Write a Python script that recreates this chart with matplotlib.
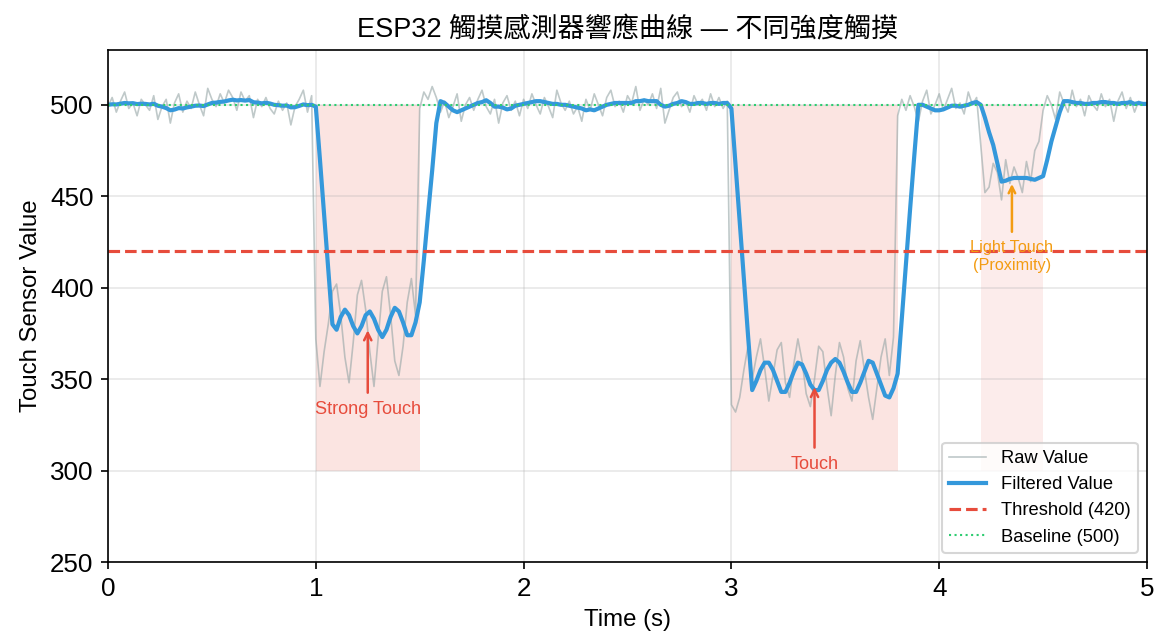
import numpy as np
import matplotlib
matplotlib.use("Agg")
import matplotlib.pyplot as plt

plt.rcParams['font.family'] = ['Liberation Sans', 'Noto Sans CJK TC', 'DejaVu Sans']

# sample times (0.02 s step)
time_s = np.round(np.arange(251) * 0.02, 2)

# raw sensor readings
raw_value = [
    499, 504, 496, 502, 507, 498, 501, 494, 503, 500,
    497, 505, 492, 499, 503, 490, 501, 506, 496, 502,
    498, 507, 500, 494, 509, 503, 499, 506, 501, 508,
    504, 497, 507, 502, 505, 493, 503, 499, 504, 498,
    495, 502, 497, 501, 489, 499, 503, 508, 496, 505,
    # strong touch 1.00 - 1.48
    372, 346, 365, 380, 398, 402, 385, 362, 348, 370,
    396, 404, 388, 365, 346, 372, 398, 406, 385, 360,
    352, 368, 392, 405, 385,
    # release 1.50 - 2.98
    498, 507, 503, 510, 504,
    496, 502, 493, 499, 506, 491, 500, 504, 497, 503,
    508, 499, 495, 503, 490, 501, 505, 497, 502, 494,
    503, 498, 506, 500, 495, 504, 499, 493, 508, 501,
    497, 502, 495, 499, 491, 503, 497, 506, 500, 494,
    504, 508, 499, 502, 496, 505, 501, 510, 497, 503,
    500, 506, 498, 509, 490, 497, 504, 507, 499, 502,
    496, 505, 500, 503, 497, 506, 499, 504, 498, 502,
    # touch 3.00 - 3.78
    336, 332, 340, 355, 368, 350, 362, 372, 356, 338,
    352, 366, 370, 348, 340, 358, 372, 360, 342, 335,
    350, 368, 365, 346, 330, 352, 370, 362, 345, 338,
    360, 371, 355, 340, 328, 345, 362, 372, 352, 373,
    # release 3.80 - 4.18
    494, 503, 497, 505, 499, 491, 502, 508, 495, 500,
    506, 497, 503, 509, 498, 501, 495, 507, 500, 504,
    # light touch 4.20 - 4.48
    478, 452, 455, 468, 463, 448, 470, 457, 466, 460,
    452, 469, 458, 475, 480,
    # release 4.50 - 5.00
    497, 505, 500, 492, 507,
    501, 496, 508, 499, 503, 494, 505, 500, 497, 506,
    499, 503, 491, 502, 507, 498, 504, 496, 502, 500,
    501,
]

# filtered output
filtered_value = [
    500.0, 500.3, 500.2, 500.6, 501.0, 500.8, 500.9, 500.4, 500.6, 500.5,
    500.2, 500.6, 499.5, 499.0, 498.2, 497.0, 497.4, 498.2, 498.0, 498.6,
    499.0, 499.5, 499.6, 499.3, 500.2, 501.0, 501.2, 501.6, 501.8, 502.4,
    502.8, 502.4, 502.6, 502.3, 502.6, 501.4, 501.2, 500.8, 501.1, 500.7,
    500.0, 499.8, 499.5, 499.6, 498.6, 498.7, 499.4, 500.2, 499.8, 500.0,
    499, 470, 440, 410, 380, 377, 384, 388, 385, 379,
    375, 379, 385, 387, 383, 377, 373, 377, 384, 389,
    387, 381, 374, 374, 381,
    392, 415, 440, 464, 490,
    502, 501, 499, 497, 496, 497, 498, 499, 500, 501,
    501.5, 502.5, 501, 499, 499, 498.5, 497.5, 498, 499.5, 500,
    500.5, 501, 501.5, 502, 502, 501.5, 501, 500.5, 500.5, 500,
    500, 499.5, 499, 498.5, 498, 497, 497.5, 497, 498, 499,
    500, 500.5, 501, 501, 501, 501, 501, 502, 502, 502.5,
    502, 502, 502, 500, 499, 499.5, 500.5, 501, 502, 501.5,
    500.5, 500.5, 501, 501, 500.5, 501, 501, 500.5, 501, 501,
    498, 467, 436, 405, 374, 344, 349, 355, 359, 359,
    355, 349, 343, 343, 348, 354, 359, 358, 353, 347,
    344, 344, 349, 355, 359, 361, 359, 354, 348, 343,
    343, 348, 354, 360, 359, 353, 347, 341, 340, 345,
    353, 383, 413, 443, 472, 500, 500, 499, 498, 497,
    497, 497.5, 498.5, 499.5, 499.5, 499, 499.5, 500, 501, 501.5,
    500, 493, 485, 478, 468, 458, 458.5, 459.5, 460, 460,
    460, 460, 459.5, 459, 460,
    461, 470, 480, 488, 496,
    502, 502, 501.5, 501, 501, 500.5, 500.5, 501, 501, 501.5,
    501.5, 501, 501, 500.5, 501, 501, 501.5, 500.5, 501, 500.5,
    500.5,
]

threshold = 420
baseline = 500

# touch windows (start, end) and shading alpha
touch_windows = [(1.0, 1.5, 0.15), (3.0, 3.8, 0.15), (4.2, 4.5, 0.1)]

fig = plt.figure(figsize=(7.8, 4.287), dpi=150)
ax = fig.add_axes([108 / 1170, 1 - 562 / 643, (1147 - 108) / 1170, (562 - 50) / 643])

for t0, t1, a in touch_windows:
    ax.fill_between([t0, t1], 300, 500, color='#e74c3c', alpha=a, linewidth=0)

ax.plot(time_s, raw_value, color='#95a5a6', alpha=0.6, linewidth=0.8, label='Raw Value')
ax.plot(time_s, filtered_value, color='#3498db', linewidth=2, label='Filtered Value')
ax.axhline(threshold, color='#e74c3c', linestyle='--', linewidth=1.5, label='Threshold (420)')
ax.axhline(baseline, color='#2ecc71', linestyle=':', linewidth=1, label='Baseline (500)')

ax.annotate('Strong Touch', xy=(1.25, 379), xytext=(1.25, 338), ha='center', va='top',
            fontsize=8.7, color='#e74c3c',
            arrowprops=dict(arrowstyle='->', color='#e74c3c', lw=1.2))
ax.annotate('Touch', xy=(3.4, 348), xytext=(3.4, 308), ha='center', va='top',
            fontsize=8.7, color='#e74c3c',
            arrowprops=dict(arrowstyle='->', color='#e74c3c', lw=1.2))
ax.annotate('Light Touch\n(Proximity)', xy=(4.35, 459), xytext=(4.35, 426), ha='center', va='top',
            fontsize=7.8, color='#f39c12',
            arrowprops=dict(arrowstyle='->', color='#f39c12', lw=1.2))

ax.set_xlim(0, 5)
ax.set_ylim(250, 530)
ax.set_xticks([0, 1, 2, 3, 4, 5])
ax.set_yticks([250, 300, 350, 400, 450, 500])
ax.tick_params(labelsize=12.5)
ax.grid(True, alpha=0.3)
ax.set_xlabel('Time (s)', fontsize=11.5)
ax.set_ylabel('Touch Sensor Value', fontsize=11.5)
ax.set_title('ESP32 觸摸感測器響應曲線 — 不同強度觸摸', fontsize=13)
ax.legend(loc='lower right', fontsize=8.8)

fig.savefig('out.png', dpi=150)
